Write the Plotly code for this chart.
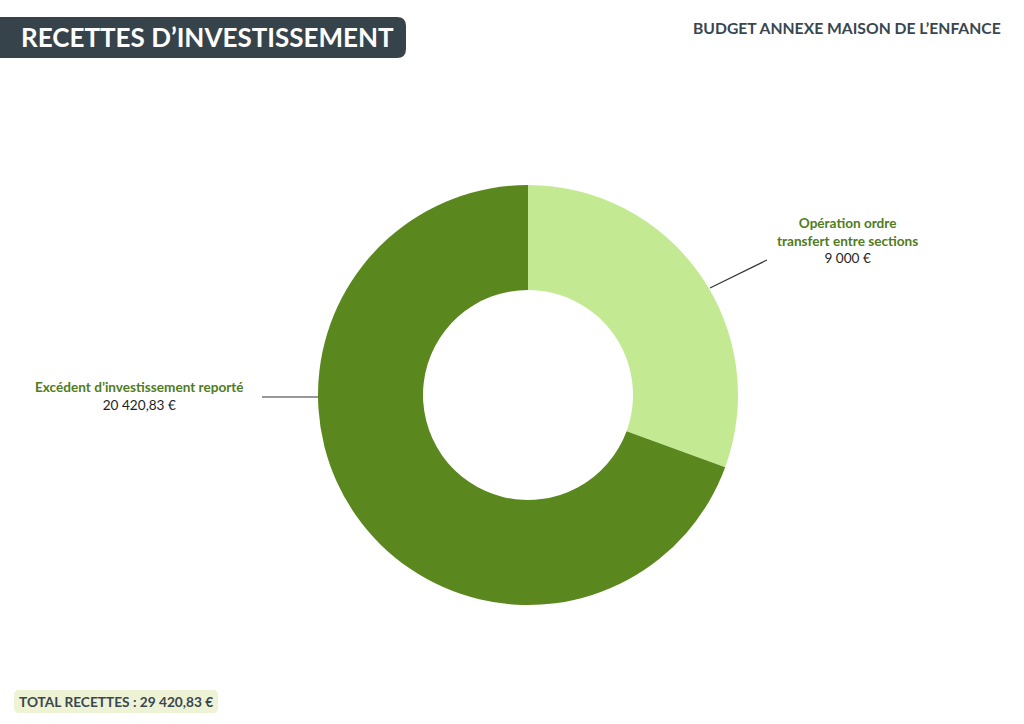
import plotly.graph_objects as go

# --- data ---
labels = ["Opération ordre<br>transfert entre sections", "Excédent d’investissement reporté"]
values = [9000.00, 20420.83]
value_texts = ["9 000 €", "20 420,83 €"]
colors = ["#c3ea92", "#5a871e"]
total_text = "TOTAL RECETTES : 29 420,83 €"

W, H = 1024, 724
FONT = "Lato"
GREEN_TXT = "#4f7c1d"
DARK = "#37434b"


def px(x):
    return x / W


def py(y):
    return 1 - y / H


def rounded_box(x0, y0, x1, y1, r):
    # rounded rectangle path in paper coords (pixel inputs)
    return (f"M {px(x0 + r)},{py(y0)} L {px(x1 - r)},{py(y0)} "
            f"Q {px(x1)},{py(y0)} {px(x1)},{py(y0 + r)} "
            f"L {px(x1)},{py(y1 - r)} Q {px(x1)},{py(y1)} {px(x1 - r)},{py(y1)} "
            f"L {px(x0 + r)},{py(y1)} Q {px(x0)},{py(y1)} {px(x0)},{py(y1 - r)} "
            f"L {px(x0)},{py(y0 + r)} Q {px(x0)},{py(y0)} {px(x0 + r)},{py(y0)} Z")


fig = go.Figure(go.Pie(
    labels=labels,
    values=values,
    hole=0.5,
    sort=False,
    direction="clockwise",
    rotation=0,
    marker=dict(colors=colors, line=dict(width=0)),
    textinfo="none",
    hoverinfo="label+value",
    showlegend=False,
    domain=dict(x=[px(318), px(738)], y=[py(605), py(185)]),
))

# title box (rounded on the right, runs off the left edge)
fig.add_shape(type="path", xref="paper", yref="paper",
              path=rounded_box(-20, 17, 406, 58, 9),
              fillcolor=DARK, line=dict(width=0))
fig.add_annotation(x=px(19), y=py(37), xref="paper", yref="paper",
                   text="<b>RECETTES D’INVESTISSEMENT</b>", showarrow=False,
                   xanchor="left", yanchor="middle",
                   font=dict(family=FONT, size=26, color="white"))

fig.add_annotation(x=px(1003), y=py(28), xref="paper", yref="paper",
                   text="<b>BUDGET ANNEXE MAISON DE L’ENFANCE</b>", showarrow=False,
                   xanchor="right", yanchor="middle",
                   font=dict(family=FONT, size=15.7, color="#3a464e"))

# leader lines
fig.add_shape(type="line", xref="paper", yref="paper",
              x0=px(710), y0=py(288), x1=px(767), y1=py(260),
              line=dict(color="#333333", width=1.2))
fig.add_shape(type="line", xref="paper", yref="paper",
              x0=px(262), y0=py(397), x1=px(318), y1=py(397),
              line=dict(color="#333333", width=1.2))

# slice labels
fig.add_annotation(x=px(847), y=py(240), xref="paper", yref="paper",
                   text=(f"<b><span style='color:{GREEN_TXT}'>{labels[0]}</span></b>"
                         f"<br>{value_texts[0]}"),
                   showarrow=False, align="center", xanchor="center", yanchor="middle",
                   font=dict(family=FONT, size=13.6, color="#1e1e1e"))
fig.add_annotation(x=px(139), y=py(396), xref="paper", yref="paper",
                   text=(f"<b><span style='color:{GREEN_TXT}'>{labels[1]}</span></b>"
                         f"<br>{value_texts[1]}"),
                   showarrow=False, align="center", xanchor="center", yanchor="middle",
                   font=dict(family=FONT, size=13.6, color="#1e1e1e"))

# total box
fig.add_shape(type="path", xref="paper", yref="paper",
              path=rounded_box(14, 690, 218, 713, 5),
              fillcolor="#eef3d6", line=dict(width=0))
fig.add_annotation(x=px(116), y=py(701), xref="paper", yref="paper",
                   text=f"<b>{total_text}</b>", showarrow=False,
                   xanchor="center", yanchor="middle",
                   font=dict(family=FONT, size=13.7, color="#3a464e"))

fig.update_layout(
    width=W, height=H,
    margin=dict(t=0, b=0, l=0, r=0),
    paper_bgcolor="white",
    plot_bgcolor="white",
)

fig.write_html("out.html", config={"displayModeBar": False},
               post_script="document.body.style.margin='0';")
